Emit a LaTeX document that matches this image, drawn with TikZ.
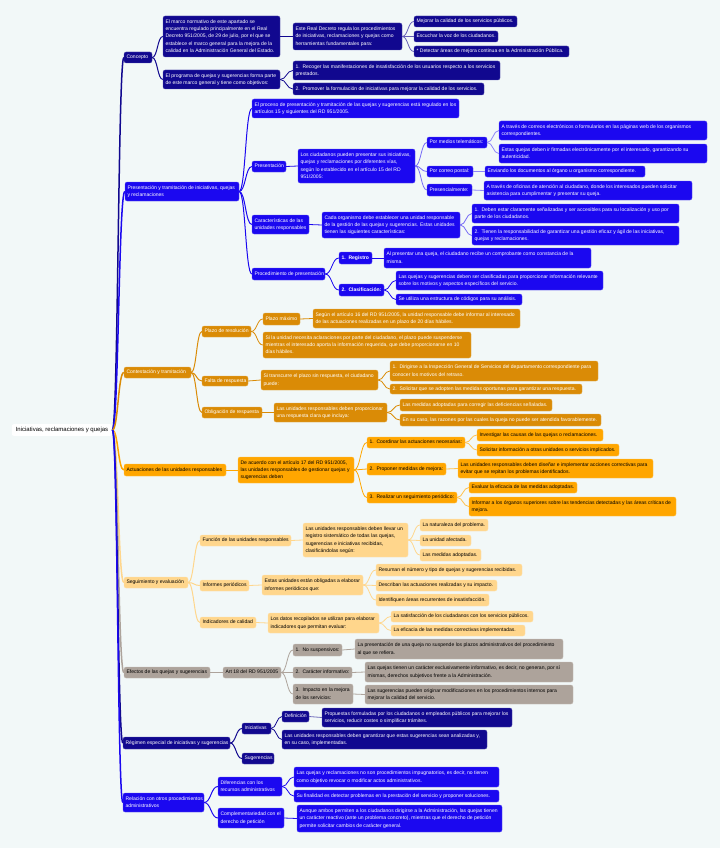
\documentclass[tikz,border=0pt]{standalone}
\usepackage{fontspec}
\setmainfont{Liberation Sans}
\usetikzlibrary{calc}
\definecolor{cnavy}{RGB}{17,8,143}
\definecolor{cblue}{RGB}{27,8,240}
\definecolor{cdor}{RGB}{218,139,6}
\definecolor{corg}{RGB}{255,166,0}
\definecolor{clor}{RGB}{255,214,140}
\definecolor{cgry}{RGB}{173,163,155}
\definecolor{cbg}{RGB}{242,248,248}
\newcommand\bx[7]{%
  \pgfmathsetmacro\bxw{#5-#3-5}\pgfmathsetmacro\bxh{#6-#4}%
  \node[#2, minimum height=\bxh pt] (#1) at ({(#3+#5)/2},{(#4+#6)/2})
    {\makebox[\bxw pt][l]{\begin{tabular}{@{}l@{}}#7\end{tabular}}};}
\newcommand\cn[3]{\draw[#1] let \p1=(#2.east), \p2=(#3.west) in (\p1) .. controls ({(\x1+\x2)/2},\y1) and ({(\x1+\x2)/2},\y2) .. (\p2);}
\begin{document}
\begin{tikzpicture}[x=1pt,y=-1pt,
  box/.style={rounded corners=2pt, inner xsep=2.5pt, inner ysep=1pt,
    font=\fontsize{5.05}{7.3}\selectfont, line width=0.3pt},
  nv/.style={box, fill=cnavy, draw=cnavy!70!white, text=white},
  bl/.style={box, fill=cblue, draw=cblue!70!white, text=white},
  dor/.style={box, fill=cdor, draw=cdor!70!white, text=white},
  org/.style={box, fill=corg, draw=corg!70!white, text=black},
  lor/.style={box, fill=clor, draw=clor!70!white, text=black},
  gry/.style={box, fill=cgry, draw=cgry!70!white, text=black},
  l1/.style={line width=1.5pt},
  l2/.style={line width=1pt},
  l3/.style={line width=0.8pt},
]
\useasboundingbox (0,0) rectangle (720,848);
\fill[cbg] (0,0) rectangle (720,848);

\node[fill=white, rounded corners=2pt, inner xsep=4pt, inner ysep=3pt, font=\fontsize{6}{7}\selectfont] (root) at (62,430) {Iniciativas, reclamaciones y quejas};

% ---------- Concepto ----------
\bx{concepto}{nv}{124}{52}{152}{63}{Concepto}
\bx{A}{nv}{163}{16}{280}{57}{El marco normativo de este apartado se\\encuentra regulado principalmente en el Real\\Decreto 951/2005, de 29 de julio, por el que se\\establece el marco general para la mejora de la\\calidad en la Administración General del Estado.}
\bx{B}{nv}{163}{70}{280}{89}{El programa de quejas y sugerencias forma parte\\de este marco general y tiene como objetivos:}
\bx{C}{nv}{293}{23}{402}{50}{Este Real Decreto regula los procedimientos\\de iniciativas, reclamaciones y quejas como\\herramientas fundamentales para:}
\bx{C1}{nv}{414}{16}{517}{27}{Mejorar la calidad de los servicios públicos.}
\bx{C2}{nv}{414}{31}{498}{42}{Escuchar la voz de los ciudadanos.}
\bx{C3}{nv}{414}{46}{569}{57}{* Detectar áreas de mejora continua en la Administración Pública.}
\bx{B1}{nv}{293}{61}{500}{80}{1.\ \ Recoger las manifestaciones de insatisfacción de los usuarios respecto a los servicios\\prestados.}
\bx{B2}{nv}{293}{83}{484}{95}{2.\ \ Promover la formulación de iniciativas para mejorar la calidad de los servicios.}

% ---------- Presentacion ----------
\bx{pres}{bl}{125}{182}{239}{201}{Presentación y tramitación de iniciativas, quejas\\y reclamaciones}
\bx{P1}{bl}{252}{99}{459}{118}{El proceso de presentación y tramitación de las quejas y sugerencias está regulado en los\\artículos 15 y siguientes del RD 951/2005.}
\bx{presn}{bl}{252}{161}{286}{172}{Presentación}
\bx{presT}{bl}{298}{149}{415}{183}{Los ciudadanos pueden presentar sus iniciativas,\\quejas y reclamaciones por diferentes vías,\\según lo establecido en el artículo 15 del RD\\951/2005:}
\bx{tel}{bl}{427}{137}{487}{148}{Por medios telemáticos:}
\bx{T1}{bl}{499}{121}{707}{140}{A través de correos electrónicos o formularios en las páginas web de los organismos\\correspondientes.}
\bx{T2}{bl}{499}{144}{707}{163}{Estas quejas deben ir firmadas electrónicamente por el interesado, garantizando su\\autenticidad.}
\bx{post}{bl}{427}{166}{473}{177}{Por correo postal:}
\bx{postT}{bl}{485}{166}{645}{177}{Enviando los documentos al órgano u organismo correspondiente.}
\bx{presc}{bl}{427}{184}{472}{196}{Presencialmente:}
\bx{prescT}{bl}{484}{181}{692}{200}{A través de oficinas de atención al ciudadano, donde los interesados pueden solicitar\\asistencia para cumplimentar y presentar su queja.}
\bx{car}{bl}{252}{215}{309}{234}{Características de las\\unidades responsables}
\bx{carT}{bl}{322}{212}{460}{238}{Cada organismo debe establecer una unidad responsable\\de la gestión de las quejas y sugerencias. Estas unidades\\tienen las siguientes características:}
\bx{car1}{bl}{472}{204}{679}{223}{1.\ \ Deben estar claramente señalizadas y ser accesibles para su localización y uso por\\parte de los ciudadanos.}
\bx{car2}{bl}{472}{226}{679}{245}{2.\ \ Tienen la responsabilidad de garantizar una gestión eficaz y ágil de las iniciativas,\\quejas y reclamaciones.}
\bx{proc}{bl}{252}{268}{325}{280}{Procedimiento de presentación}
\bx{reg}{bl}{339}{252}{372}{264}{\textbf{1.\ \ Registro}}
\bx{regT}{bl}{384}{248}{591}{268}{Al presentar una queja, el ciudadano recibe un comprobante como constancia de la\\misma.}
\bx{clas}{bl}{339}{284}{384}{296}{\textbf{2.\ \ Clasificación:}}
\bx{clas1}{bl}{396}{271}{603}{290}{Las quejas y sugerencias deben ser clasificadas para proporcionar información relevante\\sobre los motivos y aspectos específicos del servicio.}
\bx{clas2}{bl}{396}{294}{522}{305}{Se utiliza una estructura de códigos para su análisis.}

% ---------- Contestacion ----------
\bx{cont}{dor}{124}{367}{191}{378}{Contestación y tramitación}
\bx{plazo}{dor}{202}{326}{251}{337}{Plazo de resolución}
\bx{plmax}{dor}{263}{313}{300}{325}{Plazo máximo}
\bx{plmaxT}{dor}{313}{309}{520}{328}{Según el artículo 16 del RD 951/2005, la unidad responsable debe informar al interesado\\de las actuaciones realizadas en un plazo de 20 días hábiles.}
\bx{siun}{dor}{263}{332}{471}{358}{Si la unidad necesita aclaraciones por parte del ciudadano, el plazo puede suspenderse\\mientras el interesado aporta la información requerida, que debe proporcionarse en 10\\días hábiles.}
\bx{falta}{dor}{202}{376}{248}{386}{Falta de respuesta}
\bx{faltaT}{dor}{261}{370}{378}{390}{Si transcurre el plazo sin respuesta, el ciudadano\\puede:}
\bx{F1}{dor}{390}{361}{598}{381}{1.\ \ Dirigirse a la Inspección General de Servicios del departamento correspondiente para\\conocer los motivos del retraso.}
\bx{F2}{dor}{390}{384}{582}{394}{2.\ \ Solicitar que se adopten las medidas oportunas para garantizar una respuesta.}
\bx{obl}{dor}{202}{407}{262}{418}{Obligación de respuesta}
\bx{oblT}{dor}{274}{403}{387}{422}{Las unidades responsables deben proporcionar\\una respuesta clara que incluya:}
\bx{O1}{dor}{400}{399}{552}{411}{Las medidas adoptadas para corregir las deficiencias señaladas.}
\bx{O2}{dor}{400}{414}{601}{426}{En su caso, las razones por las cuales la queja no puede ser atendida favorablemente.}

% ---------- Actuaciones ----------
\bx{act}{org}{124}{464}{226}{476}{Actuaciones de las unidades responsables}
\bx{actT}{org}{238}{457}{354}{483}{De acuerdo con el artículo 17 del RD 951/2005,\\las unidades responsables de gestionar quejas y\\sugerencias deben}
\bx{A1}{org}{367}{437}{465}{448}{1.\ \ Coordinar las actuaciones necesarias:}
\bx{A1a}{org}{477}{429}{603}{441}{Investigar las causas de las quejas o reclamaciones.}
\bx{A1b}{org}{477}{444}{619}{456}{Solicitar información a otras unidades o servicios implicados.}
\bx{A2}{org}{367}{463}{446}{475}{2.\ \ Proponer medidas de mejora:}
\bx{A2a}{org}{458}{459}{653}{478}{Las unidades responsables deben diseñar e implementar acciones correctivas para\\evitar que se repitan los problemas identificados.}
\bx{A3}{org}{367}{492}{457}{503}{3.\ \ Realizar un seguimiento periódico:}
\bx{A3a}{org}{469}{482}{577}{493}{Evaluar la eficacia de las medidas adoptadas.}
\bx{A3b}{org}{469}{497}{676}{516}{Informar a los órganos superiores sobre las tendencias detectadas y las áreas críticas de\\mejora.}

% ---------- Seguimiento ----------
\bx{seg}{lor}{124}{577}{188}{588}{Seguimiento y evaluación}
\bx{func}{lor}{200}{535}{291}{546}{Función de las unidades responsables}
\bx{funcT}{lor}{303}{523}{408}{557}{Las unidades responsables deben llevar un\\registro sistemático de todas las quejas,\\sugerencias e iniciativas recibidas,\\clasificándolas según:}
\bx{FF1}{lor}{420}{519}{488}{531}{La naturaleza del problema.}
\bx{FF2}{lor}{420}{535}{471}{546}{La unidad afectada.}
\bx{FF3}{lor}{420}{549}{481}{561}{Las medidas adoptadas.}
\bx{inf}{lor}{200}{580}{249}{591}{Informes periódicos}
\bx{infT}{lor}{262}{575}{363}{595}{Estas unidades están obligadas a elaborar\\informes periódicos que:}
\bx{I1}{lor}{376}{564}{522}{576}{Resuman el número y tipo de quejas y sugerencias recibidas.}
\bx{I2}{lor}{376}{580}{497}{591}{Describan las actuaciones realizadas y su impacto.}
\bx{I3}{lor}{376}{594}{489}{606}{Identifiquen áreas recurrentes de insatisfacción.}
\bx{ind}{lor}{200}{617}{256}{628}{Indicadores de calidad}
\bx{indT}{lor}{268}{613}{379}{633}{Los datos recopilados se utilizan para elaborar\\indicadores que permitan evaluar:}
\bx{ind1}{lor}{391}{611}{533}{622}{La satisfacción de los ciudadanos con los servicios públicos.}
\bx{ind2}{lor}{391}{625}{525}{636}{La eficacia de las medidas correctivas implementadas.}

% ---------- Efectos ----------
\bx{efe}{gry}{124}{667}{210}{678}{Efectos de las quejas y sugerencias}
\bx{art}{gry}{223}{667}{281}{678}{Art 18 del RD 951/2005}
\bx{E1h}{gry}{293}{644}{342}{656}{1.\ \ No suspensivos:}
\bx{E1}{gry}{355}{639}{563}{659}{La presentación de una queja no suspende los plazos administrativos del procedimiento\\al que se refiera.}
\bx{E2h}{gry}{293}{667}{352}{678}{2.\ \ Carácter informativo:}
\bx{E2}{gry}{365}{662}{573}{682}{Las quejas tienen un carácter exclusivamente informativo, es decir, no generan, por sí\\mismas, derechos subjetivos frente a la Administración.}
\bx{E3h}{gry}{293}{684}{353}{704}{3.\ \ Impacto en la mejora\\de los servicios:}
\bx{E3}{gry}{365}{685}{573}{704}{Las sugerencias pueden originar modificaciones en los procedimientos internos para\\mejorar la calidad del servicio.}

% ---------- Regimen ----------
\bx{regi}{nv}{123}{737}{230}{749}{Régimen especial de iniciativas y sugerencias}
\bx{ini}{nv}{242}{723}{271}{734}{Iniciativas}
\bx{def}{nv}{282}{711}{309}{722}{Definición}
\bx{defT}{nv}{322}{708}{512}{727}{Propuestas formuladas por los ciudadanos o empleados públicos para mejorar los\\servicios, reducir costes o simplificar trámites.}
\bx{iniT}{nv}{282}{730}{487}{749}{Las unidades responsables deben garantizar que estas sugerencias sean analizadas y,\\en su caso, implementadas.}
\bx{sug}{nv}{242}{753}{274}{764}{Sugerencias}

% ---------- Relacion ----------
\bx{rel}{bl}{123}{793}{204}{812}{Relación con otros procedimientos\\administrativos}
\bx{dif}{bl}{218}{777}{282}{796}{Diferencias con los\\recursos administrativos}
\bx{D1}{bl}{294}{767}{499}{787}{Las quejas y reclamaciones no son procedimientos impugnatorios, es decir, no tienen\\como objetivo revocar o modificar actos administrativos.}
\bx{D2}{bl}{294}{790}{499}{802}{Su finalidad es detectar problemas en la prestación del servicio y proponer soluciones.}
\bx{comp}{bl}{218}{808}{284}{828}{Complementariedad con el\\derecho de petición}
\bx{compT}{bl}{297}{805}{502}{832}{Aunque ambos permiten a los ciudadanos dirigirse a la Administración, las quejas tienen\\un carácter reactivo (ante un problema concreto), mientras que el derecho de petición\\permite solicitar cambios de carácter general.}

% ---------- connectors ----------
\cn{l1,cnavy}{root}{concepto}
\cn{l1,cblue}{root}{pres}
\cn{l1,cdor}{root}{cont}
\cn{l1,corg}{root}{act}
\cn{l1,clor}{root}{seg}
\cn{l1,cgry}{root}{efe}
\cn{l1,cnavy}{root}{regi}
\cn{l1,cblue}{root}{rel}

\cn{l2,cnavy}{concepto}{A}
\cn{l2,cnavy}{concepto}{B}
\cn{l3,cnavy}{A}{C}
\cn{l3,cnavy}{B}{B1}
\cn{l3,cnavy}{B}{B2}
\cn{l3,cnavy!65!white}{C}{C1}
\cn{l3,cnavy!65!white}{C}{C2}
\cn{l3,cnavy!65!white}{C}{C3}

\cn{l2,cblue}{pres}{P1}
\cn{l2,cblue}{pres}{presn}
\cn{l2,cblue}{pres}{car}
\cn{l2,cblue}{pres}{proc}
\cn{l3,cblue}{presn}{presT}
\cn{l3,cblue!60!white}{presT}{tel}
\cn{l3,cblue!60!white}{presT}{post}
\cn{l3,cblue!60!white}{presT}{presc}
\cn{l3,cblue!50!white}{tel}{T1}
\cn{l3,cblue!50!white}{tel}{T2}
\cn{l3,cblue!50!white}{post}{postT}
\cn{l3,cblue!50!white}{presc}{prescT}
\cn{l3,cblue}{car}{carT}
\cn{l3,cblue!60!white}{carT}{car1}
\cn{l3,cblue!60!white}{carT}{car2}
\cn{l3,cblue}{proc}{reg}
\cn{l3,cblue}{proc}{clas}
\cn{l3,cblue}{reg}{regT}
\cn{l3,cblue}{clas}{clas1}
\cn{l3,cblue}{clas}{clas2}

\cn{l2,cdor}{cont}{plazo}
\cn{l2,cdor}{cont}{falta}
\cn{l2,cdor}{cont}{obl}
\cn{l3,cdor}{plazo}{plmax}
\cn{l3,cdor}{plazo}{siun}
\cn{l3,cdor}{plmax}{plmaxT}
\cn{l3,cdor}{falta}{faltaT}
\cn{l3,cdor}{faltaT}{F1}
\cn{l3,cdor}{faltaT}{F2}
\cn{l3,cdor}{obl}{oblT}
\cn{l3,cdor}{oblT}{O1}
\cn{l3,cdor}{oblT}{O2}

\cn{l2,corg}{act}{actT}
\cn{l3,corg}{actT}{A1}
\cn{l3,corg}{actT}{A2}
\cn{l3,corg}{actT}{A3}
\cn{l3,corg!70!white}{A1}{A1a}
\cn{l3,corg!70!white}{A1}{A1b}
\cn{l3,corg!70!white}{A2}{A2a}
\cn{l3,corg!70!white}{A3}{A3a}
\cn{l3,corg!70!white}{A3}{A3b}

\cn{l2,clor}{seg}{func}
\cn{l2,clor}{seg}{inf}
\cn{l2,clor}{seg}{ind}
\cn{l3,clor}{func}{funcT}
\cn{l3,clor}{funcT}{FF1}
\cn{l3,clor}{funcT}{FF2}
\cn{l3,clor}{funcT}{FF3}
\cn{l3,clor}{inf}{infT}
\cn{l3,clor}{infT}{I1}
\cn{l3,clor}{infT}{I2}
\cn{l3,clor}{infT}{I3}
\cn{l3,clor}{ind}{indT}
\cn{l3,clor}{indT}{ind1}
\cn{l3,clor}{indT}{ind2}

\cn{l2,cgry}{efe}{art}
\cn{l3,cgry}{art}{E1h}
\cn{l3,cgry}{art}{E2h}
\cn{l3,cgry}{art}{E3h}
\cn{l3,cgry}{E1h}{E1}
\cn{l3,cgry}{E2h}{E2}
\cn{l3,cgry}{E3h}{E3}

\cn{l2,cnavy}{regi}{ini}
\cn{l2,cnavy}{regi}{sug}
\cn{l3,cnavy}{ini}{def}
\cn{l3,cnavy}{ini}{iniT}
\cn{l3,cnavy!60!white}{def}{defT}

\cn{l2,cblue}{rel}{dif}
\cn{l2,cblue}{rel}{comp}
\cn{l3,cblue}{dif}{D1}
\cn{l3,cblue}{dif}{D2}
\cn{l3,cblue}{comp}{compT}
\end{tikzpicture}
\end{document}
